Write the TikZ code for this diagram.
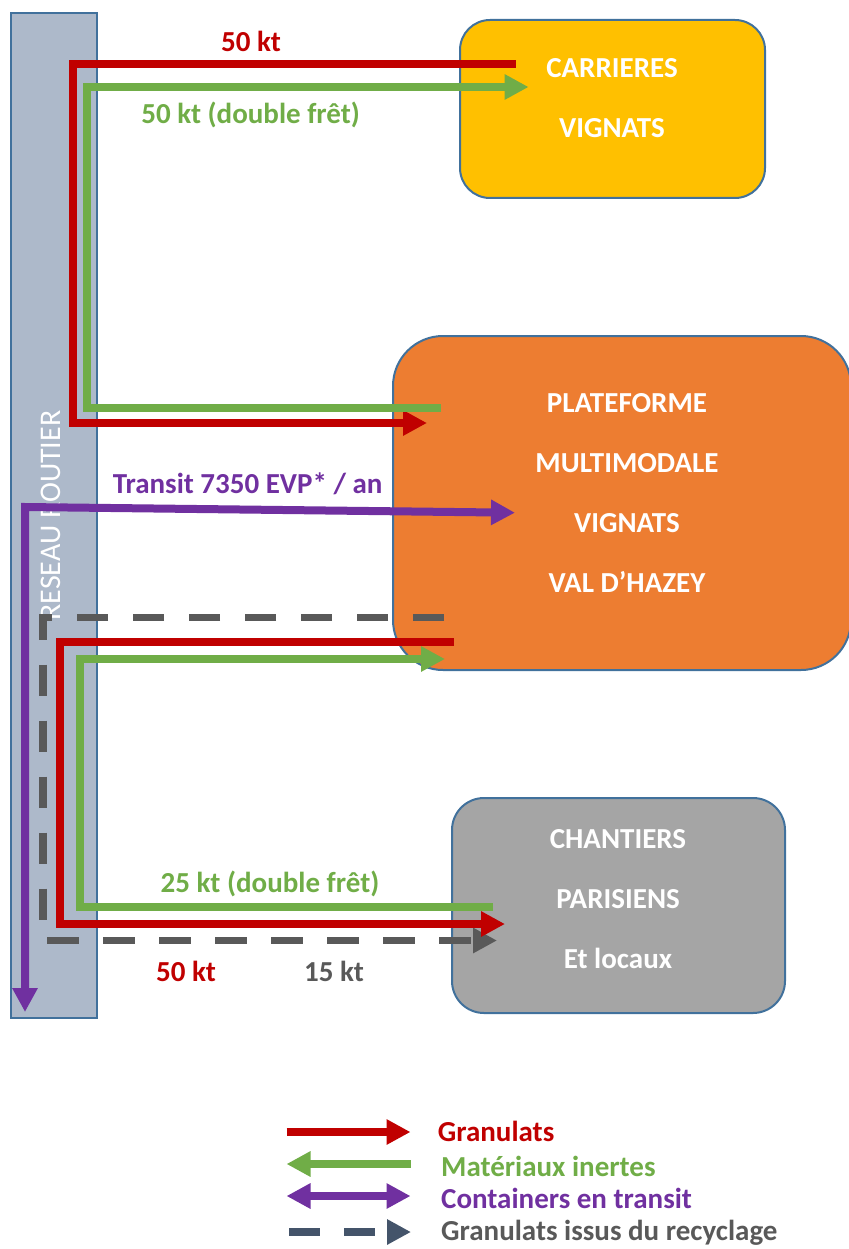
\documentclass[tikz,border=0pt]{standalone}
\usepackage{fontspec}
\setmainfont{Carlito}
\usetikzlibrary{arrows.meta}
\definecolor{cred}{HTML}{C00000}
\definecolor{cgreen}{HTML}{70AD47}
\definecolor{cpurple}{HTML}{7030A0}
\definecolor{cdash}{HTML}{595959}
\definecolor{cdashleg}{HTML}{44546A}
\definecolor{corange}{HTML}{ED7D31}
\definecolor{cyellow}{HTML}{FFC000}
\definecolor{cgray}{HTML}{A5A5A5}
\definecolor{cbar}{HTML}{ADB9CA}
\definecolor{cborder}{HTML}{41719C}
\begin{document}
\begin{tikzpicture}[x=1pt,y=-1pt,
  flowline/.style={line width=8pt, line join=miter, line cap=butt},
  dashline/.style={line width=7.5pt, line join=miter, line cap=butt, dash pattern=on 31.5pt off 24.5pt},
  arrtip/.style={-{Triangle[length=24pt,width=24pt]}},
  dbltip/.style={{Triangle[length=24pt,width=24pt]}-{Triangle[length=24pt,width=24pt]}},
  tipleft/.style={{Triangle[length=24pt,width=24pt]}-},
  boxshape/.style={draw=cborder, line width=2pt, inner sep=0pt},
  boxtext/.style={text=white, font=\fontsize{29}{35}\selectfont\bfseries, anchor=base, inner sep=0pt},
  lab/.style={font=\fontsize{29}{35}\selectfont\bfseries, anchor=base, inner sep=0pt},
  leg/.style={font=\fontsize{29}{35}\selectfont\bfseries, anchor=base west, inner sep=0pt},
]
\useasboundingbox (0,0) rectangle (848,1249);

% road bar
\node[boxshape, fill=cbar, minimum width=86pt, minimum height=1005pt] (bar) at (54,515.5) {};
\node[text=white, font=\fontsize{30}{36}\selectfont, rotate=90, inner sep=0pt] (rr) at (50.5,515.5) {RESEAU ROUTIER};

% boxes
\node[boxshape, fill=cyellow, minimum width=305pt, minimum height=178pt, rounded corners=30pt] (carr) at (612.5,109) {};
\node[boxshape, fill=corange, minimum width=458pt, minimum height=334pt, rounded corners=50pt] (plat) at (622,503) {};
\node[boxshape, fill=cgray, minimum width=333pt, minimum height=215pt, rounded corners=32pt] (chan) at (618.5,905.5) {};

\node[boxtext] (t1) at (612,77.5) {CARRIERES};
\node[boxtext] (t2) at (612,137.5) {VIGNATS};
\node[boxtext] (t3) at (627,412) {PLATEFORME};
\node[boxtext] (t4) at (627,472) {MULTIMODALE};
\node[boxtext] (t5) at (627,532) {VIGNATS};
\node[boxtext] (t6) at (627,592) {VAL D’HAZEY};
\node[boxtext] (t7) at (618,848) {CHANTIERS};
\node[boxtext] (t8) at (618,908) {PARISIENS};
\node[boxtext] (t9) at (618,968) {Et locaux};

% connector coordinates
\coordinate (rA) at (515.5,64);   \coordinate (rB) at (73,64);
\coordinate (rC) at (73,423);     \coordinate (rD) at (427,423);
\coordinate (gA) at (441,408);    \coordinate (gB) at (87,408);
\coordinate (gC) at (87,87);      \coordinate (gD) at (528.6,87);
\coordinate (pA) at (25,1012);    \coordinate (pB) at (25,507);
\coordinate (pC) at (515,512.7);
\coordinate (dA) at (444,617.5);  \coordinate (dB) at (43,617.5);
\coordinate (dC) at (43,940.5);   \coordinate (dD) at (497,940.5);
\coordinate (r2A) at (454,641.5); \coordinate (r2B) at (60,641.5);
\coordinate (r2C) at (60,924);    \coordinate (r2D) at (505,924);
\coordinate (g2A) at (493,907);   \coordinate (g2B) at (80,907);
\coordinate (g2C) at (80,659);    \coordinate (g2D) at (445,659);

% flows
\draw[flowline, cred, arrtip] (rA) -- (rB) -- (rC) -- (rD);
\draw[flowline, cgreen, arrtip] (gA) -- (gB) -- (gC) -- (gD);
\draw[flowline, cpurple, dbltip] (pA) -- (pB) -- (pC);
\draw[dashline, cdash, arrtip] (dA) -- (dB) -- (dC) -- (dD);
\draw[flowline, cred, arrtip] (r2A) -- (r2B) -- (r2C) -- (r2D);
\draw[flowline, cgreen, arrtip] (g2A) -- (g2B) -- (g2C) -- (g2D);

% labels
\node[lab, text=cred] (l1) at (251,52) {50 kt};
\node[lab, text=cgreen] (l2) at (250.6,124) {50 kt (double frêt)};
\node[lab, text=cpurple] (l3) at (247.6,493) {Transit 7350 EVP* / an};
\node[lab, text=cgreen] (l4) at (270,892) {25 kt (double frêt)};
\node[lab, text=cred] (l5) at (186,981) {50 kt};
\node[lab, text=cdash] (l6) at (334,981) {15 kt};

% legend
\coordinate (k1a) at (286.5,1132); \coordinate (k1b) at (410.5,1132);
\coordinate (k2a) at (286.5,1164); \coordinate (k2b) at (410.5,1164);
\coordinate (k3a) at (286.5,1196); \coordinate (k3b) at (410.5,1196);
\coordinate (k4a) at (289,1232);   \coordinate (k4b) at (411,1232);
\draw[flowline, cred, arrtip] (k1a) -- (k1b);
\draw[flowline, cgreen, tipleft] (k2a) -- (k2b);
\draw[flowline, cpurple, dbltip] (k3a) -- (k3b);
\draw[line width=7.5pt, cdashleg, dash pattern=on 31pt off 24pt, arrtip] (k4a) -- (k4b);
\node[leg, text=cred] (e1) at (437.7,1141) {Granulats};
\node[leg, text=cgreen] (e2) at (441,1176) {Matériaux inertes};
\node[leg, text=cpurple] (e3) at (441,1208) {Containers en transit};
\node[leg, text=cdash] (e4) at (441,1240) {Granulats issus du recyclage};
\end{tikzpicture}
\end{document}
